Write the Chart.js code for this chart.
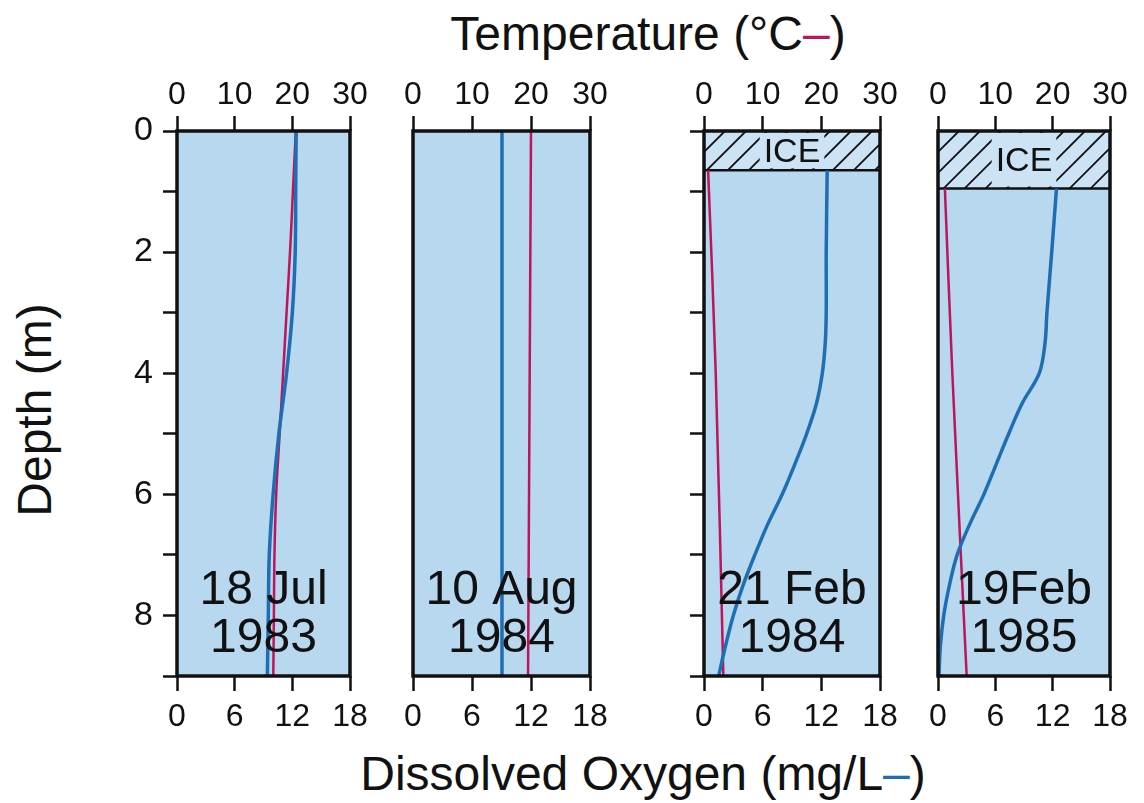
<!DOCTYPE html>
<html lang="en">
<head>
<meta charset="UTF-8">
<title>Temperature and Dissolved Oxygen Profiles</title>
<script src="https://cdn.jsdelivr.net/npm/chart.js"></script>
<style>
    body {
        margin: 0;
        width: 1144px;
        height: 803px;
        position: relative;
        overflow: hidden;
        background: #fff;
        font-family: "Liberation Sans", Arial, Helvetica, sans-serif;
        color: #111;
    }
    canvas { position: absolute; }
    .title {
        position: absolute;
        font-size: 48px;
        white-space: nowrap;
        transform: translate(-50%, -50%);
    }
    .red { color: #be145a; }
    .blue { color: #1e6eb4; }
</style>
</head>
<body>
<div class="title" style="left:648px; top:33px;">Temperature (°C<span class="red">–</span>)</div>
<div class="title" style="left:643px; top:773px;">Dissolved Oxygen (mg/L<span class="blue">–</span>)</div>
<div class="title" style="left:34px; top:410px; transform: translate(-50%, -50%) rotate(-90deg);">Depth (m)</div>

<canvas id="p1" width="275" height="720" style="left:100px; top:40px;"></canvas>
<canvas id="p2" width="232" height="720" style="left:383px; top:40px;"></canvas>
<canvas id="p3" width="231" height="720" style="left:674px; top:40px;"></canvas>
<canvas id="p4" width="227" height="720" style="left:908px; top:40px;"></canvas>

<script>
    // axis ticks
    const tempTicks = [0, 10, 20, 30];
    const oxyTicks = [0, 6, 12, 18];
    const depthLabels = [0, 2, 4, 6, 8];

    const panelDates = [['18 Jul', '1983'], ['10 Aug', '1984'], ['21 Feb', '1984'], ['19Feb', '1985']];
    const iceDepth = [null, null, 0.65, 0.95];

    // 18 Jul 1983
    const depthJul83 = [0, 1, 2, 3, 4, 5, 6, 7, 8, 9];
    const tempJul83 = [20.6, 20.1, 19.6, 19.0, 18.4, 17.8, 17.2, 16.9, 16.8, 16.7];
    const oxyJul83 = [12.4, 12.35, 12.3, 12.0, 11.4, 10.6, 10.0, 9.6, 9.5, 9.4];

    // 10 Aug 1984
    const depthAug84 = [0, 9];
    const tempAug84 = [20.0, 19.5];
    const oxyAug84 = [9.05, 9.05];

    // 21 Feb 1984 (under ice)
    const depthTempFeb84 = [0.65, 4, 9];
    const tempFeb84 = [0.7, 2.0, 3.3];
    const depthOxyFeb84 = [0.65, 2, 3, 3.5, 4, 4.5, 5, 5.5, 6, 6.5, 7, 7.5, 8, 8.5, 9];
    const oxyFeb84 = [12.6, 12.5, 12.5, 12.4, 12.1, 11.5, 10.5, 9.3, 8.0, 6.5, 5.2, 4.0, 3.0, 2.2, 1.5];

    // 19 Feb 1985 (under ice)
    const depthTempFeb85 = [0.95, 4, 9];
    const tempFeb85 = [1.2, 2.5, 5.0];
    const depthOxyFeb85 = [0.95, 2, 3, 3.5, 4, 4.5, 5, 5.5, 6, 6.5, 7, 7.5, 8, 8.5, 9];
    const oxyFeb85 = [12.4, 11.9, 11.4, 11.2, 10.6, 8.8, 7.4, 6.1, 4.8, 3.3, 2.0, 1.2, 0.6, 0.25, 0.1];

    const PANEL_FILL = '#b8d8f0';
    const ICE_FILL = '#cbe3f5';
    const RED = '#be145a';
    const BLUE = '#1e6eb4';
    const FONT = '"Liberation Sans", Arial, Helvetica, sans-serif';

    Chart.defaults.font.family = FONT;
    Chart.defaults.color = '#111';

    const toPoints = (ys, xs) => ys.map((y, i) => ({ x: xs[i], y: y }));

    const panelDeco = {
        id: 'panelDeco',
        beforeDraw(chart, args, opts) {
            const { ctx, chartArea: a, scales } = chart;
            ctx.save();
            ctx.fillStyle = PANEL_FILL;
            ctx.fillRect(a.left, a.top, a.width, a.height);
            if (opts.ice) {
                const y0 = scales.y.getPixelForValue(0);
                const y1 = scales.y.getPixelForValue(opts.ice);
                const h = y1 - y0;
                ctx.fillStyle = ICE_FILL;
                ctx.fillRect(a.left, y0, a.width, h);
                ctx.save();
                ctx.beginPath();
                ctx.rect(a.left, y0, a.width, h);
                ctx.clip();
                ctx.strokeStyle = '#111';
                ctx.lineWidth = 1.8;
                ctx.beginPath();
                for (let x = a.left - h; x < a.right + h; x += 21) {
                    ctx.moveTo(x, y1);
                    ctx.lineTo(x + h, y0);
                }
                ctx.stroke();
                ctx.restore();
                const cx = (a.left + a.right) / 2;
                ctx.font = '34px ' + FONT;
                const w = ctx.measureText('ICE').width;
                ctx.fillStyle = ICE_FILL;
                ctx.fillRect(cx - w / 2 - 4, y0 + 2, w + 8, h - 4);
                ctx.fillStyle = '#111';
                ctx.textAlign = 'center';
                ctx.textBaseline = 'middle';
                ctx.fillText('ICE', cx, (y0 + y1) / 2 + 2);
                ctx.strokeStyle = '#111';
                ctx.lineWidth = 2.5;
                ctx.beginPath();
                ctx.moveTo(a.left, y1);
                ctx.lineTo(a.right, y1);
                ctx.stroke();
            }
            ctx.restore();
        },
        afterDatasetsDraw(chart, args, opts) {
            const { ctx, chartArea: a, scales } = chart;
            ctx.save();
            ctx.fillStyle = '#111';
            ctx.font = '48px ' + FONT;
            ctx.textAlign = 'center';
            ctx.textBaseline = 'middle';
            const cx = (a.left + a.right) / 2;
            ctx.fillText(opts.date[0], cx, scales.y.getPixelForValue(7.6));
            ctx.fillText(opts.date[1], cx, scales.y.getPixelForValue(8.38));
            ctx.restore();
        },
        afterDraw(chart) {
            const { ctx, chartArea: a } = chart;
            ctx.save();
            ctx.strokeStyle = '#111';
            ctx.lineWidth = 3.5;
            ctx.strokeRect(a.left, a.top, a.width, a.height);
            ctx.restore();
        }
    };

    function makePanel(id, idx, temp, oxy, leftWidth, depthTicks) {
        const tickGrid = { display: true, drawOnChartArea: false, drawTicks: true, tickLength: 15, tickWidth: 2.5, tickColor: '#111' };
        new Chart(document.getElementById(id), {
            type: 'scatter',
            data: {
                datasets: [
                    {
                        label: 'Dissolved Oxygen (mg/L)',
                        data: oxy,
                        xAxisID: 'oxy',
                        showLine: true,
                        borderColor: BLUE,
                        borderWidth: 3.5,
                        pointRadius: 0,
                        tension: 0.35
                    },
                    {
                        label: 'Temperature (°C)',
                        data: temp,
                        xAxisID: 'temp',
                        showLine: true,
                        borderColor: RED,
                        borderWidth: 2.5,
                        pointRadius: 0,
                        tension: 0.35
                    }
                ]
            },
            options: {
                responsive: false,
                animation: false,
                events: [],
                layout: { padding: { left: 0, right: 25, top: 0, bottom: 0 } },
                plugins: {
                    legend: { display: false },
                    tooltip: { enabled: false },
                    panelDeco: { date: panelDates[idx], ice: iceDepth[idx] }
                },
                scales: {
                    temp: {
                        type: 'linear',
                        position: 'top',
                        min: 0,
                        max: 30,
                        afterBuildTicks: s => { s.ticks = tempTicks.map(v => ({ value: v })); },
                        afterFit: s => { s.height = 91; },
                        grid: tickGrid,
                        border: { display: false },
                        ticks: { font: { size: 32 }, padding: 2, maxRotation: 0, color: '#111' }
                    },
                    oxy: {
                        type: 'linear',
                        position: 'bottom',
                        min: 0,
                        max: 18,
                        afterBuildTicks: s => { s.ticks = oxyTicks.map(v => ({ value: v })); },
                        afterFit: s => { s.height = 84; },
                        grid: tickGrid,
                        border: { display: false },
                        ticks: { font: { size: 32 }, padding: 7, maxRotation: 0, color: '#111' }
                    },
                    y: {
                        type: 'linear',
                        position: 'left',
                        reverse: true,
                        min: 0,
                        max: 9,
                        afterFit: s => { s.width = leftWidth; },
                        grid: Object.assign({}, tickGrid, { display: depthTicks !== 'none', tickLength: 14 }),
                        border: { display: false },
                        ticks: {
                            display: depthTicks !== 'none',
                            stepSize: 1,
                            font: { size: 34 },
                            padding: 10,
                            color: depthTicks === 'labels' ? '#111' : 'rgba(0,0,0,0)',
                            callback: v => depthLabels.includes(v) ? String(v) : ''
                        }
                    }
                }
            },
            plugins: [panelDeco]
        });
    }

    makePanel('p1', 0, toPoints(depthJul83, tempJul83), toPoints(depthJul83, oxyJul83), 77, 'labels');
    makePanel('p2', 1, toPoints(depthAug84, tempAug84), toPoints(depthAug84, oxyAug84), 30, 'none');
    makePanel('p3', 2, toPoints(depthTempFeb84, tempFeb84), toPoints(depthOxyFeb84, oxyFeb84), 30, 'ticks');
    makePanel('p4', 3, toPoints(depthTempFeb85, tempFeb85), toPoints(depthOxyFeb85, oxyFeb85), 30, 'none');
</script>
</body>
</html>
